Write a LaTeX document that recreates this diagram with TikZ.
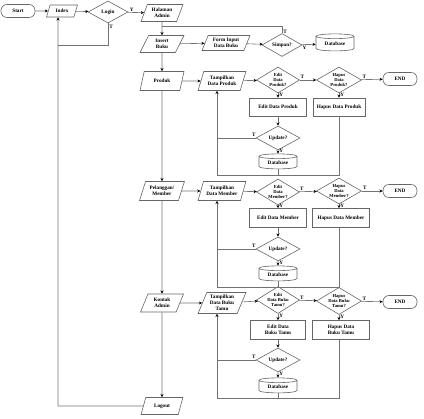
\documentclass[tikz,border=0pt]{standalone}
\usepackage{fontspec}
\setmainfont{Liberation Serif}
\usetikzlibrary{shapes.geometric,arrows.meta}

\tikzset{
  txt/.style={font=\fontsize{5.2}{5.8}\selectfont\bfseries, align=center},
  small/.style={font=\fontsize{4.6}{5}\selectfont\bfseries, align=center},
  line/.style={draw=black!55, line width=0.6pt},
  arr/.style={line, -{Stealth[length=3.2pt,width=3pt,black]}},
  terminal/.style={txt, draw=black!60, line width=0.6pt, rectangle, rounded corners=6pt, minimum width=34pt, minimum height=13pt, inner sep=1pt},
  io/.style={txt, draw=black!60, line width=0.6pt, trapezium, trapezium left angle=66, trapezium right angle=114, trapezium stretches=true, minimum width=44pt, minimum height=18pt, inner sep=0.5pt},
  process/.style={txt, draw=black!60, line width=0.6pt, rectangle, minimum width=57pt, minimum height=19pt, inner sep=1pt},
  decision/.style={small, draw=black!60, line width=0.6pt, diamond, minimum width=43pt, minimum height=26pt, inner sep=-5pt},
  database/.style={txt, draw=black!60, line width=0.6pt, cylinder, shape border rotate=90, aspect=0.22, minimum width=38pt, minimum height=15pt, inner sep=0.5pt},
  lbl/.style={txt, inner sep=1pt},
}

\begin{document}
\begin{tikzpicture}[x=1pt,y=-1pt]
    \useasboundingbox (0,0) rectangle (424,419);

    % top row
    \node[terminal] (start) at (18,11) {Start};
    \node[io, minimum width=31pt, minimum height=12pt] (index) at (62,11) {Index};
    \node[decision, txt, minimum width=40pt, minimum height=22pt] (login) at (108,12) {Login};
    \node[io, minimum width=42pt, minimum height=17pt] (halaman) at (162,13) {Halaman\\Admin};
    \node[io, minimum height=17pt] (insert) at (162,44) {Insert\\Buku};
    \node[io, minimum width=48pt, minimum height=15pt] (form) at (226,43) {Form Input\\Data Buku};
    \node[decision, txt, minimum width=40pt, minimum height=23pt] (simpan) at (282,45) {Simpan?};
    \node[database, minimum height=17pt] (db0) at (335,44) {Database};
    \coordinate (lb) at (58,406);
    \coordinate (tj) at (58,45);
    \coordinate (sj) at (162,26);

    % produk
    \node[io, minimum height=19pt] (produk) at (162,81) {Produk};
    \node[io, minimum width=48pt, minimum height=19pt] (tampil1) at (222,81) {Tampilkan\\Data Produk};
    \node[decision] (edit1d) at (278,80) {Edit\\Data\\Produk?};
    \node[decision, minimum width=45pt] (hapus1d) at (339,80) {Hapus\\Data\\Produk?};
    \node[terminal] (end1) at (400,79) {END};
    \node[process, minimum height=18pt] (edit1b) at (278,107) {Edit Data Produk};
    \node[process, minimum width=52pt, minimum height=18pt] (hapus1b) at (339,107) {Hapus Data Produk};
    \node[decision, txt, minimum width=44pt, minimum height=24pt] (upd1) at (278,138) {Update?};
    \node[database] (db1) at (278,163) {Database};
    \coordinate (r1) at (217,175);

    % pelanggan / member
    \node[io, minimum width=45pt, minimum height=19pt] (pelanggan) at (162,191) {Pelanggan/\\Member};
    \node[io, minimum width=48pt, minimum height=19pt] (tampil2) at (222,191) {Tampilkan\\Data Member};
    \node[decision] (edit2d) at (278,192) {Edit\\Data\\Member?};
    \node[decision, minimum width=45pt] (hapus2d) at (339,191) {Hapus\\Data\\Member?};
    \node[terminal] (end2) at (400,191) {END};
    \node[process] (edit2b) at (278,218) {Edit Data Member};
    \node[process] (hapus2b) at (341,218) {Hapus Data Member};
    \node[decision, txt, minimum width=44pt, minimum height=24pt] (upd2) at (278,249) {Update?};
    \node[database] (db2) at (278,275) {Database};
    \coordinate (r2) at (217,287);

    % kontak admin
    \node[io, minimum width=43pt, minimum height=18pt] (kontak) at (162,303) {Kontak\\Admin};
    \node[io, minimum width=48pt, minimum height=21pt] (tampil3) at (222,303) {Tampilkan\\Data Buku\\Tamu};
    \node[decision, minimum height=27pt] (edit3d) at (278,300) {Edit\\Data Buku\\Tamu?};
    \node[decision, minimum width=45pt, minimum height=27pt] (hapus3d) at (339,301) {Hapus\\Data Buku\\Tamu?};
    \node[terminal] (end3) at (400,302) {END};
    \node[process, minimum width=55pt] (edit3b) at (278,330) {Edit Data\\Buku Tamu};
    \node[process] (hapus3b) at (341,330) {Hapus Data\\Buku Tamu};
    \node[decision, txt, minimum width=44pt, minimum height=24pt] (upd3) at (278,360) {Update?};
    \node[database] (db3) at (278,387) {Database};
    \coordinate (r3) at (217,398);

    \node[io, minimum width=42pt, minimum height=17pt] (logout) at (162,406) {Logout};

    % main line
    \draw[arr] (start) -- (index);
    \draw[arr] (index) -- (login);
    \draw[arr] (login) -- node[lbl, above, pos=0.25]{Y} (halaman);
    \draw[line] (login.south) |- node[lbl, right, pos=0.08]{T} (tj);
    \draw[arr] (halaman) -- (insert);
    \draw[arr] (insert) -- (form);
    \draw[arr] (form) -- (simpan);
    \draw[arr] (simpan) -- node[lbl, below, pos=0.2]{Y} (db0);
    \draw[line] (simpan.north) |- node[lbl, right, pos=0.1]{T} (sj);
    \draw[arr] (insert) -- (produk);
    \draw[arr] (produk) -- (pelanggan);
    \draw[arr] (pelanggan) -- (kontak);
    \draw[arr] (kontak) -- (logout);
    \draw[arr] (logout.west) -- (lb) -- (index.south -| lb);

    % produk
    \draw[arr] (produk) -- (tampil1);
    \draw[arr] (tampil1) -- (edit1d);
    \draw[arr] (edit1d) -- node[lbl, above, pos=0.15]{T} (hapus1d);
    \draw[arr] (hapus1d) -- node[lbl, above, pos=0.15]{T} (end1);
    \draw[arr] (edit1d) -- node[lbl, right, pos=0.3]{Y} (edit1b);
    \draw[arr] (hapus1d) -- node[lbl, right, pos=0.3]{Y} (hapus1b);
    \draw[arr] (edit1b) -- (upd1);
    \draw[arr] (upd1) -- node[lbl, right, pos=0.3]{Y} (db1);
    \draw[line] (upd1.west) -- node[lbl, above, pos=0.05]{T} (upd1.west -| r1);
    \draw[line] (hapus1b.south) |- (r1);
    \draw[line] (db1.south) -- (db1.south |- r1);
    \draw[arr] (r1) -- (r1 |- tampil1.south);

    % pelanggan / member
    \draw[arr] (pelanggan) -- (tampil2);
    \draw[arr] (tampil2) -- (edit2d);
    \draw[arr] (edit2d) -- node[lbl, above, pos=0.15]{T} (hapus2d);
    \draw[arr] (hapus2d) -- node[lbl, above, pos=0.15]{T} (end2);
    \draw[arr] (edit2d) -- node[lbl, right, pos=0.3]{Y} (edit2b);
    \draw[arr] (hapus2d.south) -- node[lbl, right, pos=0.3]{Y} (hapus2d.south |- hapus2b.north);
    \draw[arr] (edit2b) -- (upd2);
    \draw[arr] (upd2) -- node[lbl, right, pos=0.3]{Y} (db2);
    \draw[line] (upd2.west) -- node[lbl, above, pos=0.05]{T} (upd2.west -| r2);
    \draw[line] (hapus2d.south |- hapus2b.south) |- (r2);
    \draw[line] (db2.south) -- (db2.south |- r2);
    \draw[arr] (r2) -- (r2 |- tampil2.south);

    % kontak admin
    \draw[arr] (kontak) -- (tampil3);
    \draw[arr] (tampil3) -- (edit3d);
    \draw[arr] (edit3d) -- node[lbl, above, pos=0.15]{T} (hapus3d);
    \draw[arr] (hapus3d) -- node[lbl, above, pos=0.15]{T} (end3);
    \draw[arr] (edit3d) -- node[lbl, right, pos=0.3]{Y} (edit3b);
    \draw[arr] (hapus3d.south) -- node[lbl, right, pos=0.3]{Y} (hapus3d.south |- hapus3b.north);
    \draw[arr] (edit3b) -- (upd3);
    \draw[arr] (upd3) -- node[lbl, right, pos=0.3]{Y} (db3);
    \draw[line] (upd3.west) -- node[lbl, above, pos=0.05]{T} (upd3.west -| r3);
    \draw[line] (hapus3d.south |- hapus3b.south) |- (r3);
    \draw[line] (db3.south) -- (db3.south |- r3);
    \draw[arr] (r3) -- (r3 |- tampil3.south);
\end{tikzpicture}
\end{document}
